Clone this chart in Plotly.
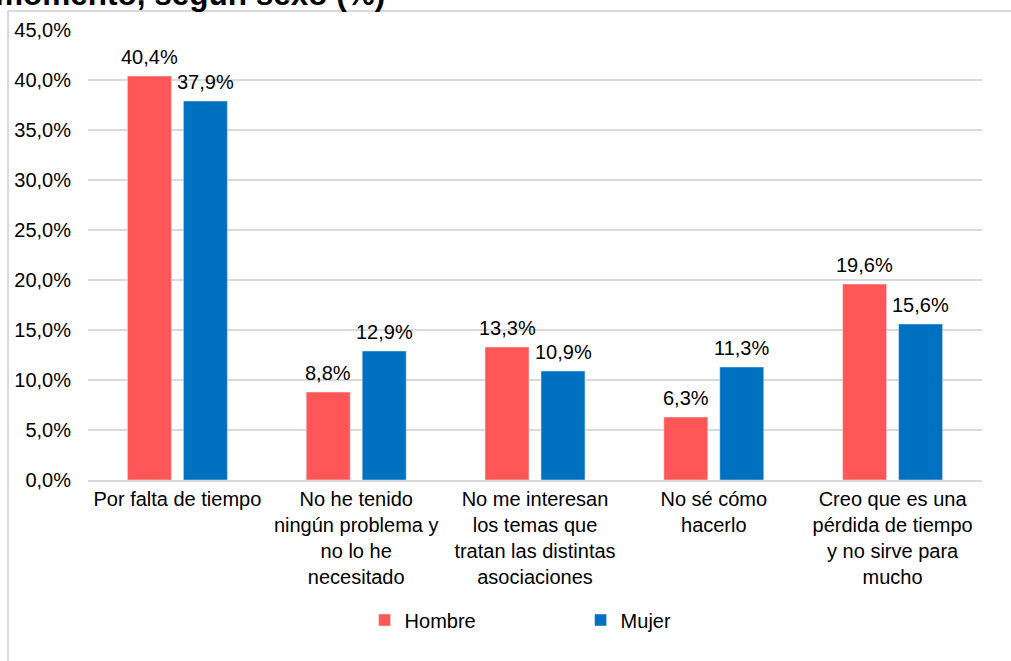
import plotly.graph_objects as go

categories = [
    "Por falta de tiempo",
    "No he tenido<br>ningún problema y<br>no lo he<br>necesitado",
    "No me interesan<br>los temas que<br>tratan las distintas<br>asociaciones",
    "No sé cómo<br>hacerlo",
    "Creo que es una<br>pérdida de tiempo<br>y no sirve para<br>mucho",
]
hombre = [40.4, 8.8, 13.3, 6.3, 19.6]
mujer = [37.9, 12.9, 10.9, 11.3, 15.6]
tick_vals = [0, 5, 10, 15, 20, 25, 30, 35, 40, 45]
tick_text = ["0,0%", "5,0%", "10,0%", "15,0%", "20,0%", "25,0%", "30,0%", "35,0%", "40,0%", "45,0%"]

FONT = "Liberation Sans, Arial, sans-serif"
FS = 20
RED = "#FF5757"
BLUE = "#0070C0"
GRID = "#D9D9D9"

fig = go.Figure()
fig.add_trace(go.Bar(name="Hombre", x=categories, y=hombre, marker_color=RED))
fig.add_trace(go.Bar(name="Mujer", x=categories, y=mujer, marker_color=BLUE))

def fmt(v):
    return f"{v:.1f}".replace(".", ",") + "%"

annotations = []
for c, h, m in zip(categories, hombre, mujer):
    annotations.append(dict(x=c, y=h, xref="x", yref="y", text=fmt(h), showarrow=False,
                            xshift=-28, yshift=6, yanchor="bottom",
                            font=dict(size=FS, color="#000000", family=FONT)))
    annotations.append(dict(x=c, y=m, xref="x", yref="y", text=fmt(m), showarrow=False,
                            xshift=28, yshift=6, yanchor="bottom",
                            font=dict(size=FS, color="#000000", family=FONT)))

# clipped title at top
annotations.append(dict(x=-95 / 894, y=(480 - 14.5) / 450, xref="paper", yref="paper",
                        text="<b>momento, según sexo (%)</b>", showarrow=False,
                        xanchor="left", yanchor="bottom",
                        font=dict(size=31.5, color="#000000", family=FONT)))

shapes = [
    dict(type="line", xref="paper", yref="paper", x0=(8 - 88) / 894, x1=(8 - 88) / 894,
         y0=(480 - 11) / 450, y1=(480 - 670) / 450, line=dict(color=GRID, width=2)),
    dict(type="line", xref="paper", yref="paper", x0=(8 - 88) / 894, x1=(1020 - 88) / 894,
         y0=(480 - 11) / 450, y1=(480 - 11) / 450, line=dict(color=GRID, width=2)),
]

fig.update_layout(
    width=1011, height=661,
    margin=dict(l=88, r=29, t=30, b=181),
    paper_bgcolor="white", plot_bgcolor="white",
    separators=",.",
    barmode="group", bargap=0.374, bargroupgap=0.214,
    font=dict(family=FONT, size=FS, color="#000000"),
    annotations=annotations,
    shapes=shapes,
    legend=dict(orientation="h", x=0.551, xanchor="center", y=(480 - 620) / 450, yanchor="middle",
                font=dict(size=FS, family=FONT, color="#000000"),
                entrywidth=171, entrywidthmode="pixels", itemwidth=30),
    xaxis=dict(showgrid=False, showline=True, linecolor=GRID, linewidth=1.5,
               ticks="", tickfont=dict(size=FS, family=FONT, color="#000000")),
    yaxis=dict(range=[0, 45], tickmode="array", tickvals=tick_vals, ticktext=tick_text,
               showgrid=True, gridcolor=GRID, gridwidth=1.5, zeroline=False,
               ticks="outside", ticklen=12, tickcolor="rgba(0,0,0,0)",
               tickfont=dict(size=FS, family=FONT, color="#000000")),
)

fig.write_html("out.html", config={"displayModeBar": False},
               post_script="document.body.style.margin='0';")
